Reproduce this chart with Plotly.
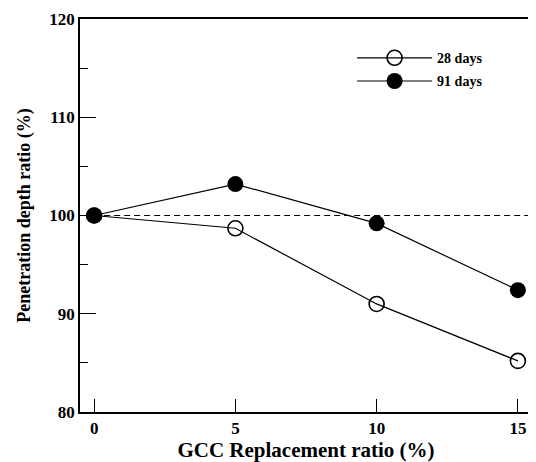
import plotly.graph_objects as go

replacement = [0, 5, 10, 15]
days28 = [100, 98.7, 91.0, 85.2]
days91 = [100, 103.2, 99.2, 92.4]
ref_value = 100
x_range = [-0.5, 15.5]
y_range = [80, 120]

FONT = "Liberation Serif, Times New Roman, serif"

fig = go.Figure()
fig.add_trace(go.Scatter(
    x=[0, x_range[1]], y=[ref_value, ref_value], mode="lines",
    line=dict(color="black", width=1.2, dash="6px,4px"), showlegend=False, hoverinfo="skip"))
fig.add_trace(go.Scatter(
    x=replacement, y=days28, mode="lines+markers", name="28 days", legendgroup="a",
    line=dict(color="black", width=1.2),
    marker=dict(symbol="circle-open", size=15, color="black", line=dict(width=1.6))))
fig.add_trace(go.Scatter(
    x=replacement, y=days91, mode="lines+markers", name="91 days", legendgroup="b",
    line=dict(color="black", width=1.2),
    marker=dict(symbol="circle", size=16, color="black")))

# The page body has an 8px margin, so the figure is 8px smaller and margins shifted accordingly
fig.update_layout(
    width=528, height=454,
    margin=dict(l=72, r=2, t=7, b=50),
    paper_bgcolor="white", plot_bgcolor="white",
    font=dict(family=FONT, color="black"),
    legend=dict(x=0.602, y=0.941, xanchor="left", yanchor="top",
                font=dict(family=FONT, size=14, color="black", weight="bold"),
                bgcolor="rgba(0,0,0,0)", itemwidth=75, tracegroupgap=2),
)
fig.update_xaxes(
    range=x_range, tickvals=replacement, ticktext=[str(v) for v in replacement],
    ticks="inside", ticklen=13, tickwidth=1.2, tickcolor="black",
    showline=True, linecolor="black", linewidth=1.5, mirror=True, showgrid=False, zeroline=False,
    tickfont=dict(family=FONT, size=17, weight="bold"), ticklabeloverflow="allow",
    title=dict(text="GCC Replacement ratio (%)", font=dict(family=FONT, size=21, weight="bold"), standoff=2),
)
fig.update_yaxes(
    range=y_range, tickvals=[80, 90, 100, 110, 120],
    ticks="inside", ticklen=16, tickwidth=1.2, tickcolor="black",
    minor=dict(dtick=5, tick0=80, ticks="inside", ticklen=8, tickwidth=1.2, tickcolor="black"),
    showline=True, linecolor="black", linewidth=1.5, mirror=True, showgrid=False, zeroline=False,
    tickfont=dict(family=FONT, size=17, weight="bold"), ticklabeloverflow="allow",
    title=dict(text="Penetration depth ratio (%)", font=dict(family=FONT, size=18, weight="bold"), standoff=14),
)

fig.write_html("out.html")
